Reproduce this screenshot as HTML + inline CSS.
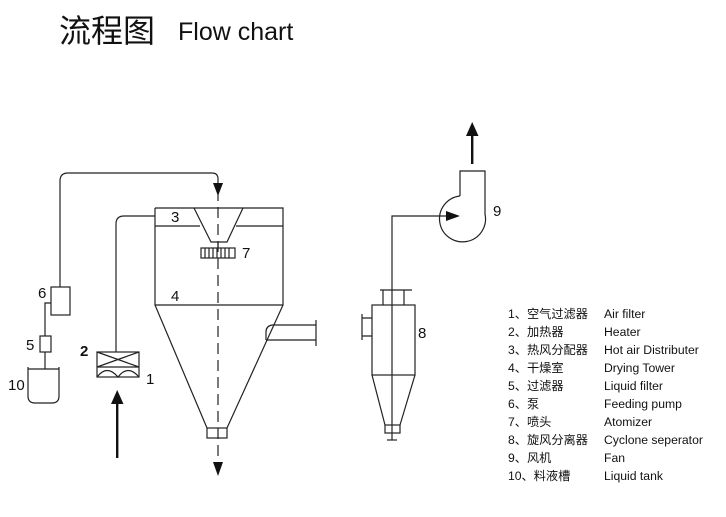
<!DOCTYPE html>
<html><head><meta charset="utf-8"><style>
html,body{margin:0;padding:0;background:#fff;width:726px;height:517px;overflow:hidden}
svg{display:block}
text{font-family:"Liberation Sans","Noto Sans CJK SC",sans-serif;fill:#111}
</style></head><body>
<svg width="726" height="517" viewBox="0 0 726 517" xmlns="http://www.w3.org/2000/svg">
<text x="59" y="42" font-size="32" font-family="Noto Sans CJK SC,sans-serif">流程图</text>
<text x="178" y="40" font-size="25">Flow chart</text>
<g fill="none" stroke="#222" stroke-width="1.2">
<path d="M60 287 V181 Q60 173 68 173 H212 Q218 173 218 179 V185"/>
<rect x="51" y="287" width="19" height="28"/>
<path d="M51 303 H45 V336"/>
<rect x="40" y="336" width="11" height="16"/>
<path d="M45 352 V369"/>
<path d="M28 367 V396 Q28 403 35 403 H52 Q59 403 59 396 V367"/>
<path d="M28 369 H59"/>
<path d="M155 208 H283 V305 L227 428 M155 208 V305 L207 428"/>
<path d="M155 226 H200 M236 226 H283 M155 305 H283"/>
<path d="M194 208 L211 242 H227 L243 208"/>
<rect x="207" y="428" width="20" height="10"/>
<rect x="201" y="248" width="34" height="10"/>
<path d="M205 248v10M209 248v10M213 248v10M217 248v10M221 248v10M225 248v10M229 248v10"/>
<path d="M218 242 V248"/>
<path d="M218 190 V465" stroke-dasharray="11 6"/>
<path d="M272 325 H316 M266 340 H316 M272 325 Q266 326 266 332 V340 M316 320 V346"/>
<path d="M155 216 H124 Q116 216 116 224 V352"/>
<rect x="97" y="352" width="42" height="25"/>
<path d="M97 367 H139 M97 352 L139 367 M139 352 L97 367"/>
<path d="M97 377 Q107 364 118 377 Q128 364 139 377"/>
<path d="M460 196 V171 H485 V214 A23 23 0 1 1 460 196"/>
<path d="M392 440 V216 H446"/>
<path d="M380 290 H412 M383 290 V305 M404 290 V305"/>
<rect x="372" y="305" width="43" height="70"/>
<path d="M372 318 H362 M372 336 H362 M362 314 V340"/>
<path d="M372 375 L385 425 M415 375 L400 425"/>
<rect x="385" y="425" width="15" height="8"/>
<path d="M387 440 H397"/>
</g>
<g fill="#111">
<path d="M213 183 L223 183 L218 196 Z"/>
<path d="M213 462 L223 462 L218 476 Z"/>
<rect x="116" y="402" width="2.4" height="56"/>
<path d="M111 404 L123.5 404 L117.2 390 Z"/>
<path d="M446 211 L460 216 L446 221 Z"/>
<rect x="471" y="134" width="2.4" height="30"/>
<path d="M466 136 L478.5 136 L472.2 122 Z"/>
</g>
<g font-size="15">
<text x="38" y="298">6</text>
<text x="26" y="350">5</text>
<text x="8" y="390">10</text>
<text x="80" y="356" font-weight="bold">2</text>
<text x="146" y="384">1</text>
<text x="171" y="222">3</text>
<text x="171" y="301">4</text>
<text x="242" y="258">7</text>
<text x="418" y="338">8</text>
<text x="493" y="216">9</text>
</g>
<g font-size="12.2">
<text x="508" y="318">1、空气过滤器</text><text x="604" y="318">Air filter</text>
<text x="508" y="336">2、加热器</text><text x="604" y="336">Heater</text>
<text x="508" y="354">3、热风分配器</text><text x="604" y="354">Hot air Distributer</text>
<text x="508" y="372">4、干燥室</text><text x="604" y="372">Drying Tower</text>
<text x="508" y="390">5、过滤器</text><text x="604" y="390">Liquid filter</text>
<text x="508" y="408">6、泵</text><text x="604" y="408">Feeding pump</text>
<text x="508" y="426">7、喷头</text><text x="604" y="426">Atomizer</text>
<text x="508" y="444">8、旋风分离器</text><text x="604" y="444">Cyclone seperator</text>
<text x="508" y="462">9、风机</text><text x="604" y="462">Fan</text>
<text x="508" y="480">10、料液槽</text><text x="604" y="480">Liquid tank</text>
</g>
</svg>
</body></html>
